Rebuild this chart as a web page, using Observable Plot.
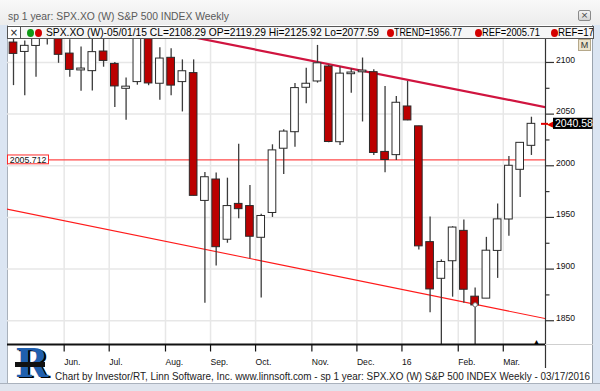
<!DOCTYPE html>
<html><head><meta charset="utf-8">
<script src="https://cdn.jsdelivr.net/npm/d3@7"></script>
<script src="https://cdn.jsdelivr.net/npm/@observablehq/plot@0.6"></script>
<style>
html,body{margin:0;padding:0;background:#fff;}
#win{position:relative;width:600px;height:391px;overflow:hidden;background:#e9eef5;font-family:"Liberation Sans",Arial,sans-serif;}
.abs{position:absolute;}
.fit{position:absolute;white-space:nowrap;transform-origin:0 0;line-height:11px;}
.dot{position:absolute;border-radius:50%;}
</style></head><body>
<div id="win">
  <div class="abs" style="left:0;top:0;width:600px;height:25px;background:linear-gradient(#f9f9f9,#ececec);"></div>
  <div class="abs" style="left:0;top:25px;width:7px;height:366px;background:#dbe5f2;"></div>
  <div class="abs" style="left:592px;top:25px;width:8px;height:366px;background:#dbe5f2;border-left:1px solid #9aa3ad;"></div>
  <div class="abs" style="left:7px;top:25px;width:585px;height:358px;background:#fff;border-left:1px solid #a9b1bb;box-sizing:border-box;"></div>
  <div class="abs" style="left:0;top:383px;width:600px;height:8px;background:#dfe5ee;border-top:1px solid #aab2bd;"></div>
  <div id="plot" class="abs" style="left:0;top:0;"></div>

  <!-- window title -->
  <div class="fit" id="title" style="left:8px;top:11px;font-size:11px;color:#5a5a5a;">sp 1 year: SPX.XO (W) S&amp;P 500 INDEX Weekly</div>
  <div class="abs" style="left:578px;top:10px;width:11px;height:9px;border:1px solid #8a8a8a;border-radius:2px;background:linear-gradient(#f4f4f4,#d4d4d4);font:9px/9px 'DejaVu Sans';text-align:center;color:#444;">×</div>

  <!-- legend bar -->
  <div class="abs" style="left:7px;top:26px;width:585px;height:11px;border:1px solid #555;background:#f6f6f6;box-sizing:content-box;overflow:hidden;">
    <div class="abs" style="left:0;top:0;width:12px;height:11px;border-right:1px solid #555;background:#fff;font:10px/11px 'DejaVu Sans';text-align:center;color:#222;">×</div>
    <div class="dot" style="left:19px;top:1.5px;width:7px;height:8px;background:#0f9a16;"></div>
    <div class="dot" style="left:26.5px;top:1.5px;width:7px;height:8px;background:#d40000;"></div>
    <div class="fit" id="lg1" style="left:38px;top:0;font-size:10.5px;color:#000;">SPX.XO (W)-05/01/15 CL=2108.29 OP=2119.29 Hi=2125.92 Lo=2077.59</div>
    <div class="dot" style="left:379px;top:1.5px;width:7px;height:8px;background:#d40000;"></div>
    <div class="fit" id="lg2" style="left:386px;top:0;font-size:10.5px;color:#000;">TREND=1956.77</div>
    <div class="dot" style="left:467px;top:1.5px;width:7px;height:8px;background:#d40000;"></div>
    <div class="fit" id="lg3" style="left:474px;top:0;font-size:10.5px;color:#000;">REF=2005.71</div>
    <div class="dot" style="left:543px;top:1.5px;width:7px;height:8px;background:#d40000;"></div>
    <div class="fit" id="lg4" style="left:550px;top:0;font-size:10.5px;color:#000;">REF=17</div>
  </div>
  <div class="abs" style="left:578px;top:39px;width:11px;height:10px;border:1px solid #b5a88a;background:#ece3cc;font:9px/10px 'Liberation Sans';text-align:center;color:#333;">M</div>

  <!-- logo -->
  <div class="abs" style="left:14px;top:343px;width:36px;height:40px;">
    <div class="abs" style="left:1px;top:0px;font:bold 40px/40px 'DejaVu Serif';color:#1f5fae;text-shadow:2px 1px 0 #000;">R</div>
    <div class="abs" style="left:1px;top:19px;width:30px;height:5px;background:#111;"></div>
  </div>

  <!-- footer -->
  <div class="abs" style="left:55px;top:371px;width:537px;height:12px;overflow:hidden;">
    <div class="fit" id="foot" style="left:0;top:0;font-size:11px;color:#222;">Chart by Investor/RT, Linn Software, Inc. www.linnsoft.com - sp 1 year: SPX.XO (W) S&amp;P 500 INDEX Weekly - 03/17/2016</div>
  </div>
</div>
<script>
// ---- data (week index 0 = week ending 05/01/15, weekly bars) ----
const open  = [2119.29,2110.2,2116.0,2122.7,2125.3,2108.6,2092.3,2091.6,2110.6,2098.6,2074.5,2081.0,2126.9,2079.4,2104.5,2081.0,2089.7,1966.0,1986.7,1928.4,1963.1,1961.0,1930.3,1954.3,2016.5,2032.5,2075.5,2081.6,2096.1,2022.8,2088.8,2090.9,2090.6,2013.4,2010.3,2057.4,2038.2,1926.1,1890.6,1907.6,1937.0,1873.3,1871.4,1917.6,1948.0,1996.1,2019.3];
const high  = [2125.92,2120.9,2123.9,2134.7,2126.2,2121.9,2115.0,2126.7,2129.9,2100.0,2085.0,2132.8,2132.8,2114.2,2113.3,2102.5,2102.5,1993.5,1993.0,1988.0,2020.9,1981.0,1953.0,2020.3,2034.9,2079.7,2094.3,2116.5,2097.5,2095.5,2094.0,2104.3,2093.0,2076.7,2067.0,2081.6,2038.2,1950.3,1908.9,1941.0,1947.5,1881.6,1930.7,1963.0,2009.1,2022.4,2047.0];
const low   = [2077.59,2067.9,2085.6,2117.0,2099.2,2085.7,2072.1,2072.5,2095.4,2056.3,2044.0,2078.0,2077.5,2063.5,2067.9,2052.1,1970.9,1867.0,1903.1,1925.0,1948.7,1910.0,1871.9,1950.0,1991.6,2018.0,2060.0,2080.0,2022.3,2019.7,2070.3,2042.4,2010.0,1993.3,2005.0,2043.6,1918.5,1857.8,1812.3,1872.8,1867.0,1810.1,1871.4,1891.0,1931.8,1969.3,2010.0];
const close = [2108.29,2116.1,2122.7,2126.1,2107.4,2092.8,2094.1,2110.0,2101.5,2076.8,2076.6,2126.6,2079.7,2103.8,2077.6,2091.5,1970.9,1988.9,1921.2,1961.0,1958.0,1931.3,1951.4,2014.9,2033.1,2075.2,2079.4,2099.2,2023.0,2089.2,2090.1,2091.7,2012.4,2005.6,2061.0,2043.9,1922.0,1880.3,1906.9,1940.2,1880.0,1864.8,1917.8,1948.1,2000.0,2022.2,2040.6];
const monthTickWeek  = [5, 9, 14, 18, 22, 27, 31, 35, 40, 44];
const monthTickLabel = ["Jun.","Jul.","Aug.","Sep.","Oct.","Nov.","Dec.","16","Feb.","Mar."];
const yMajor = [1850, 1900, 1950, 2000, 2050, 2100];
const yMinor = [1875, 1925, 1975, 2025, 2075];
const refLevel = 2005.712;
const refLabel = "2005.712";
const lastPrice = 2040.58;
const lastLabel = "2040.58";
const trendWeek  = [-0.6, 47.3];
const trendValue = [1958.1, 1852.0];
const upperWeek  = [0, 47.3];
const upperValue = [2159.0, 2056.6];
const touchWeek = 41, touchValue = 1865.4;
const markerWeek = 46.45;

// ---- layout ----
const W = 600, H = 391;
const mL = 7, mR = 55, mT = 38, mB = 47;
const xDom = [-0.533, 47.25];
const yDom = [1827.0, 2123.2];
const pxX = (W - mL - mR) / (xDom[1] - xDom[0]);
const pxY = (H - mT - mB) / (yDom[1] - yDom[0]);
const xR = xDom[1], xL = xDom[0], yB = yDom[0], yT = yDom[1];

const bars = open.map((o, i) => {
  const c = close[i];
  let b1 = Math.min(o, c), b2 = Math.max(o, c);
  if (b2 - b1 < 1.6) { const m = (b1 + b2) / 2; b1 = m - 0.8; b2 = m + 0.8; }
  return {i, o, h: high[i], l: low[i], c, b1, b2, down: c < o};
});
const upper = upperWeek.map((w, k) => ({w, v: upperValue[k]}));
const trend = trendWeek.map((w, k) => ({w, v: trendValue[k]}));
const gridCol = "#e7e7e7";

const chart = Plot.plot({
  width: W, height: H,
  marginLeft: mL, marginRight: mR, marginTop: mT, marginBottom: mB,
  x: {type: "linear", domain: xDom, axis: null},
  y: {type: "linear", domain: yDom, axis: null},
  style: {background: "transparent", fontFamily: "Liberation Sans, Arial, sans-serif", fontSize: "9px", overflow: "visible", color: "#111"},
  marks: [
    // grid
    Plot.ruleY(yMajor, {x1: xL, x2: xR, stroke: gridCol, strokeWidth: 1.5}),
    Plot.ruleX(monthTickWeek, {x: d => d - 0.5, y1: yB, y2: yT, stroke: gridCol, strokeWidth: 1.5}),
    // reference line
    Plot.ruleY([refLevel], {x1: xL + 41 / pxX, x2: xR, stroke: "#ff4a4a", strokeWidth: 1.3}),
    // trend lines
    Plot.line(trend, {x: "w", y: "v", stroke: "#ff1a1a", strokeWidth: 1.1, clip: true}),
    Plot.line(upper, {x: "w", y: "v", stroke: "#d0143f", strokeWidth: 2.2, clip: true}),
    // candles
    Plot.ruleX(bars, {x: "i", y1: "l", y2: "h", stroke: "#3c3c3c", strokeWidth: 1.3, clip: true}),
    Plot.rect(bars, {x1: d => d.i - 0.34, x2: d => d.i + 0.34, y1: "b1", y2: "b2",
      fill: d => d.down ? "#bb0000" : "#ffffff", stroke: "#2a2a2a", strokeWidth: 1, clip: true}),
    Plot.dot([touchValue], {x: touchWeek, y: d => d, r: 2.2, fill: "#fff", stroke: "#777", strokeWidth: 1}),
    // right axis
    Plot.ruleX([xR], {y1: yB - 24 / pxY, y2: yT, stroke: "#333", strokeWidth: 1.2}),
    Plot.ruleY(yMajor, {x1: xR, x2: xR + 9 / pxX, stroke: "#333", strokeWidth: 1.2}),
    Plot.ruleY(yMinor, {x1: xR, x2: xR + 4.5 / pxX, stroke: "#333", strokeWidth: 1.2}),
    Plot.text(yMajor, {x: xR + 10.5 / pxX, y: d => d, text: d => String(d), textAnchor: "start", dy: -2.7, fontSize: 8.6, fill: "#111"}),
    // bottom axis
    Plot.ruleY([yB], {x1: xL, x2: xR, stroke: "#111", strokeWidth: 2}),
    Plot.ruleY([yB], {x1: xR, x2: xR + 48 / pxX, stroke: "#cfcfcf", strokeWidth: 1}),
    Plot.ruleX(monthTickWeek, {x: d => d - 0.5, y1: yB, y2: yB - 7.5 / pxY, stroke: "#111", strokeWidth: 1.2}),
    Plot.text(monthTickWeek, {x: d => d - 0.5, y: yB - 18 / pxY, text: (d, k) => monthTickLabel[k], textAnchor: "start", fontSize: 8.6, fill: "#111"}),
    Plot.text(["▲"], {x: markerWeek, y: yB + 3 / pxY, text: d => d, fontSize: 7, fill: "#000"}),
    // reference label
    Plot.rect([refLevel], {x1: xL + 0.5 / pxX, x2: xL + 41.5 / pxX, y1: d => d - 4.4 / pxY, y2: d => d + 4.4 / pxY, fill: "#fff", stroke: "#ff2a2a", strokeWidth: 1}),
    Plot.text([refLabel], {x: xL + 2.3 / pxX, y: refLevel, text: d => d, textAnchor: "start", fontSize: 8.8, fill: "#111"}),
    // last price marker
    Plot.ruleY([lastPrice], {x1: xR - 4 / pxX, x2: xR + 3 / pxX, stroke: "#e00000", strokeWidth: 2}),
    Plot.text(["◀"], {x: xR + 5 / pxX, y: lastPrice, text: d => d, fontSize: 9, fill: "#e00000", fontFamily: "DejaVu Sans"}),
    Plot.rect([lastPrice], {x1: xR + 8 / pxX, x2: xR + 47.5 / pxX, y1: d => d - 5.6 / pxY, y2: d => d + 5.6 / pxY, fill: "#000"}),
    Plot.text([lastLabel], {x: xR + 9.5 / pxX, y: lastPrice, text: d => d, textAnchor: "start", fontSize: 10.5, fill: "#fff"})
  ]
});
document.getElementById("plot").appendChild(chart);

// fit chrome texts to the measured widths of the reference
function fit(id, w) {
  const el = document.getElementById(id);
  const r = el.getBoundingClientRect().width;
  if (r > 0) el.style.transform = `scaleX(${w / r})`;
}
fit("title", 221);
fit("lg1", 333);
fit("lg2", 68);
fit("lg3", 58);
fit("lg4", 36);
fit("foot", 535);
</script>
</body></html>
